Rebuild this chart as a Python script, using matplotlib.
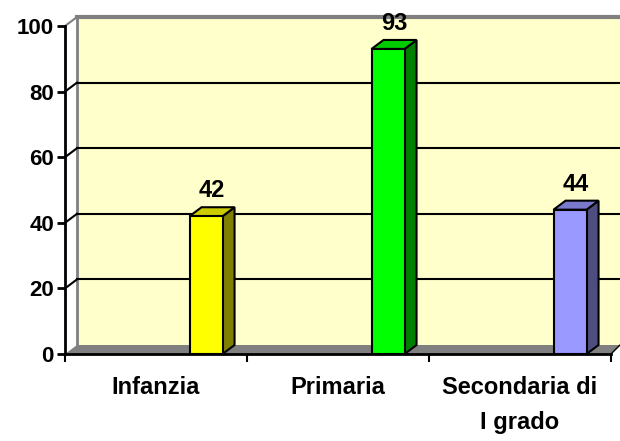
import matplotlib.pyplot as plt
from matplotlib.patches import Polygon

categories = ['Infanzia', 'Primaria', 'Secondaria di\nI grado']
values = [42, 93, 44]
front_colors = ['#FFFF00', '#00FF00', '#9999FF']
side_colors = ['#808000', '#008000', '#4D4D80']
top_colors = ['#CCCC00', '#00CC00', '#7A7ACC']
y_ticks = [0, 20, 40, 60, 80, 100]

FONT = 'Liberation Sans'

W, H = 620, 441
fig = plt.figure(figsize=(W / 100, H / 100), dpi=100)
ax = fig.add_axes([65 / W, 87 / H, 546 / W, 328 / H])
ax.set_xlim(0, 3)
ax.set_ylim(0, 100)
ax.set_facecolor('none')

# depth offset of the pseudo 3d effect (data units)
dx = 12 / 182
dy = 9 / 3.28
xr = 3 + 9 / 182

# back wall
ax.add_patch(Polygon([(dx, dy), (xr, dy), (xr, 100 + dy), (dx, 100 + dy)],
                     closed=True, facecolor='#FFFFCC', edgecolor='none',
                     clip_on=False, zorder=0))
ax.plot([dx, dx], [dy, 100 + dy], color='#808080', lw=2, clip_on=False, zorder=1)
ax.plot([dx, xr], [100 + dy, 100 + dy], color='#808080', lw=3, clip_on=False, zorder=1)
ax.plot([0, dx], [100, 100 + dy], color='#808080', lw=1.5, clip_on=False, zorder=1)

# gridlines on the back wall
for v in y_ticks[1:-1]:
    ax.plot([dx, xr], [v + dy, v + dy], color='black', lw=1.5, clip_on=False, zorder=1)
    ax.plot([0, dx], [v, v + dy], color='black', lw=1.5, clip_on=False, zorder=1)

# floor
ax.add_patch(Polygon([(0, 0), (3, 0), (xr, dy), (dx, dy)], closed=True,
                     facecolor='#808080', edgecolor='none', clip_on=False, zorder=1))
ax.plot([3, xr], [0, dy], color='black', lw=1, clip_on=False, zorder=1)

# bars
bw = 33 / 182
for i, v in enumerate(values):
    xc = i + 0.775
    x0, x1 = xc - bw / 2, xc + bw / 2
    ax.bar(xc, v, width=bw, color=front_colors[i], edgecolor='black', lw=1.5, zorder=3)
    ax.add_patch(Polygon([(x1, 0), (x1 + dx, dy), (x1 + dx, v + dy), (x1, v)], closed=True,
                         facecolor=side_colors[i], edgecolor='black', lw=1.5, zorder=2, clip_on=False))
    ax.add_patch(Polygon([(x0, v), (x1, v), (x1 + dx, v + dy), (x0 + dx, v + dy)], closed=True,
                         facecolor=top_colors[i], edgecolor='black', lw=1.5, zorder=2, clip_on=False))
    ax.text(xc + dx / 2, v + dy + 3, str(v), ha='center', va='baseline',
            fontsize=17, fontweight='bold', family=FONT, clip_on=False)

# axes
for s in ['top', 'right']:
    ax.spines[s].set_visible(False)
ax.spines['left'].set_linewidth(2)
ax.spines['bottom'].set_linewidth(2)
ax.spines['left'].set_zorder(4)
ax.spines['bottom'].set_zorder(4)

ax.set_yticks(y_ticks)
ax.set_yticklabels([str(t) for t in y_ticks], fontsize=16, fontweight='bold', family=FONT)
ax.tick_params(axis='y', direction='out', length=6, width=2, pad=2)

ax.set_xticks([0.5, 1.5, 2.5])
ax.set_xticklabels(categories, fontsize=17, fontweight='bold', family=FONT, linespacing=1.65)
ax.set_xticks([0, 1, 2, 3], minor=True)
ax.tick_params(axis='x', which='major', length=0, pad=16)
ax.tick_params(axis='x', which='minor', direction='out', length=6, width=1.5)

fig.savefig('out.png', dpi=100)
